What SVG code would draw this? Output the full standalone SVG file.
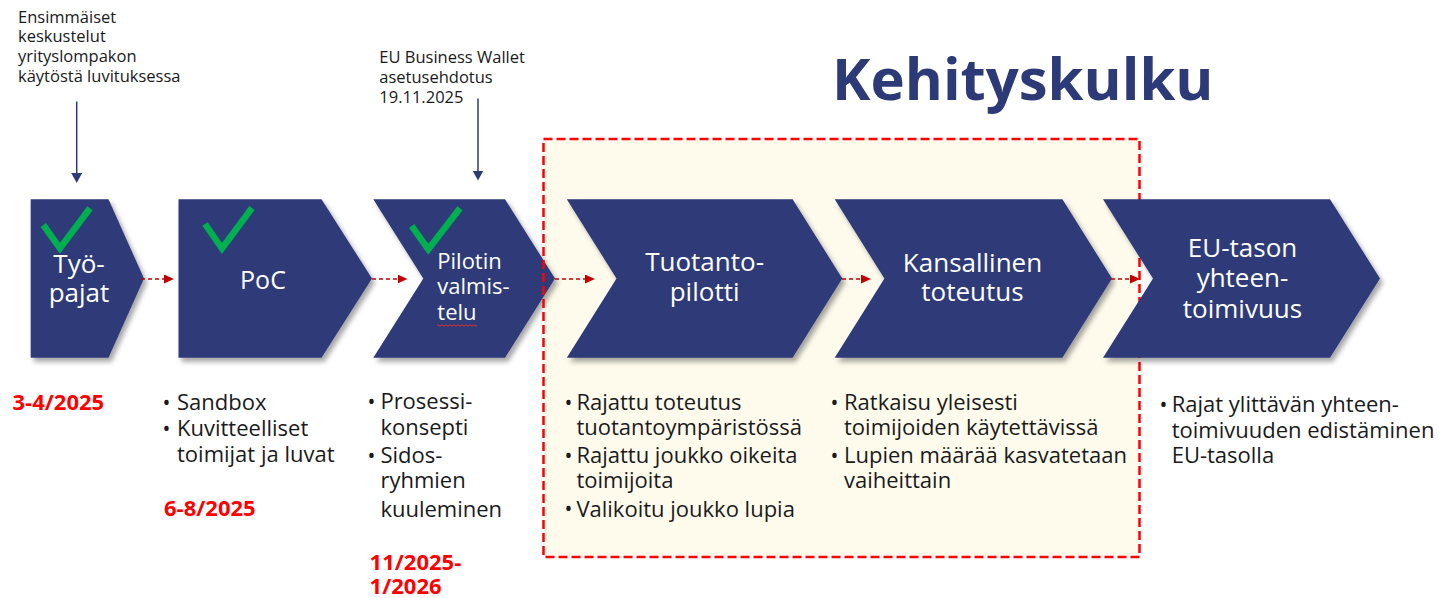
<svg xmlns="http://www.w3.org/2000/svg" width="1439" height="598" viewBox="0 0 1439 598">
<defs>
<style>
.chev{fill:#2D3A78;filter:url(#sh)}
.lbl{font-family:"Open Sans","Liberation Sans",sans-serif;font-size:26px;fill:#FFFFFF;text-anchor:middle}
.lbl2{font-family:"Open Sans","Liberation Sans",sans-serif;font-size:22px;fill:#FFFFFF}
.chk{fill:none;stroke:#00B050;stroke-width:6.5;stroke-linejoin:miter}
.body{font-family:"Open Sans","Liberation Sans",sans-serif;font-size:22px;fill:#1A1A1A}
.bul{font-family:"Open Sans","Liberation Sans",sans-serif;font-size:21px;fill:#1A1A1A}
.date{font-family:"Open Sans","Liberation Sans",sans-serif;font-size:22px;font-weight:bold;fill:#FF0000}
.note{font-family:"Open Sans","Liberation Sans",sans-serif;font-size:16.5px;fill:#1A1A1A}
.con{fill:none;stroke:#C00000;stroke-width:1.6;stroke-dasharray:4 3;marker-end:url(#ah)}
.ann{fill:none;stroke:#2D3A78;stroke-width:1.5;marker-end:url(#ah2)}
</style>
<filter id="sh" x="-10%" y="-10%" width="125%" height="130%">
<feDropShadow dx="3" dy="4" stdDeviation="2.5" flood-color="#000" flood-opacity="0.35"/>
</filter>
<marker id="ah" markerUnits="userSpaceOnUse" markerWidth="12" markerHeight="10" refX="2" refY="4.5" orient="auto">
<path d="M0,0 L10,4.5 L0,9 Z" fill="#C00000"/>
</marker>
<marker id="ah2" markerUnits="userSpaceOnUse" markerWidth="12" markerHeight="12" refX="1" refY="5.5" orient="auto">
<path d="M0,0 L10,5.5 L0,11 Z" fill="#2D3A78"/>
</marker>
</defs>
<rect width="1439" height="598" fill="#FFFFFF"/>

<g id="title">
<text x="832" y="100" font-family="'Open Sans','Liberation Sans',sans-serif" font-size="58" font-weight="bold" fill="#2D3A78">Kehityskulku</text>
</g>

<g id="phase-box-fill">
<rect x="543.5" y="139" width="596" height="418" fill="#FEFBEC"/>
</g>

<g id="n1">
<path class="chev" d="M30.7,199.3 H108.5 L144,278.5 L108.5,357.7 H30.7 Z"/>
<polyline class="chk" points="43.3,225 60,248.3 90,208.3"/>
<text class="lbl" x="79" y="273.3">Työ-</text>
<text class="lbl" x="79" y="301.7">pajat</text>
</g>
<g id="n2">
<path class="chev" d="M178.5,199.3 H321.5 L372,278.5 L321.5,357.7 H178.5 Z"/>
<polyline class="chk" points="205,224 222,248.5 252,208"/>
<text class="lbl" x="263" y="289.3" style="font-size:25px">PoC</text>
</g>
<g id="n3">
<path class="chev" d="M373.3,199.3 H505 L555,278.5 L505,357.7 H373.3 L423.3,278.5 Z"/>
<polyline class="chk" points="411.7,226 428.3,249.3 460,208.3"/>
<text class="lbl2" x="437.3" y="269">Pilotin</text>
<text class="lbl2" x="437.3" y="294">valmis-</text>
<text class="lbl2" x="437.3" y="319.5">telu</text>
<path d="M437,325.5 q1,-1.3 2,0 t2,0 t2,0 t2,0 t2,0 t2,0 t2,0 t2,0 t2,0 t2,0 t2,0 t2,0 t2,0 t2,0 t2,0 t2,0 t2,0 t2,0 t2,0 t2,0" fill="none" stroke="#E03030" stroke-width="1"/>
</g>
<g id="n4">
<path class="chev" d="M566.8,199.3 H792.6 L842.3,278.5 L792.6,357.7 H566.8 L616.5,278.5 Z"/>
<text class="lbl" x="704.6" y="271">Tuotanto-</text>
<text class="lbl" x="704.6" y="300.7">pilotti</text>
</g>
<g id="n5">
<path class="chev" d="M834.7,199.3 H1062.4 L1112,278.5 L1062.4,357.7 H834.7 L884.4,278.5 Z"/>
<text class="lbl" x="972.5" y="271.7">Kansallinen</text>
<text class="lbl" x="972.5" y="300.7">toteutus</text>
</g>

<g id="phase-box-border">
<rect x="543.5" y="139" width="596" height="418" fill="none" stroke="#FF0000" stroke-width="2.5" stroke-dasharray="9 4"/>
</g>

<g id="n6">
<path class="chev" d="M1103,199.3 H1330 L1380,278.5 L1330,357.7 H1103 L1153,278.5 Z"/>
<text class="lbl" x="1242.5" y="256.7">EU-tason</text>
<text class="lbl" x="1242.5" y="287.3">yhteen-</text>
<text class="lbl" x="1242.5" y="318">toimivuus</text>
</g>

<g id="connectors">
<path class="con" d="M141,279 H166"/>
<path class="con" d="M372,279 H399.5"/>
<path class="con" d="M555,279 H587"/>
<path class="con" d="M842,279 H863"/>
<path class="con" d="M1111,279 H1132"/>
<path class="ann" d="M76.7,101.5 V174"/>
<path class="ann" d="M478,98.5 V171.5"/>
</g>

<g id="notes">
<text class="note" x="18" y="22.5">Ensimmäiset</text>
<text class="note" x="18" y="42.2">keskustelut</text>
<text class="note" x="18" y="61.9">yrityslompakon</text>
<text class="note" x="18" y="81.6">käytöstä luvituksessa</text>
<text class="note" x="379.3" y="63.3">EU Business Wallet</text>
<text class="note" x="379.3" y="83">asetusehdotus</text>
<text class="note" x="379.3" y="102.7">19.11.2025</text>
</g>

<g id="details">
<text class="date" x="12.5" y="410">3-4/2025</text>

<text class="bul" x="162.5" y="409.5">•</text>
<text class="body" x="177" y="410">Sandbox</text>
<text class="bul" x="162.5" y="435.5">•</text>
<text class="body" x="177" y="436">Kuvitteelliset</text>
<text class="body" x="177" y="462">toimijat ja luvat</text>
<text class="date" x="164" y="516">6-8/2025</text>

<text class="bul" x="367.5" y="408.5">•</text>
<text class="body" x="380.4" y="409">Prosessi-</text>
<text class="body" x="380.4" y="434.5">konsepti</text>
<text class="bul" x="367.5" y="462.5">•</text>
<text class="body" x="380.4" y="463">Sidos-</text>
<text class="body" x="380.4" y="488">ryhmien</text>
<text class="body" x="380.4" y="516.5">kuuleminen</text>
<text class="date" x="369.6" y="569.5">11/2025-</text>
<text class="date" x="369.6" y="594">1/2026</text>

<text class="bul" x="564.5" y="409.5">•</text>
<text class="body" x="576.4" y="410">Rajattu toteutus</text>
<text class="body" x="576.4" y="435">tuotantoympäristössä</text>
<text class="bul" x="564.5" y="462.5">•</text>
<text class="body" x="576.4" y="463">Rajattu joukko oikeita</text>
<text class="body" x="576.4" y="488">toimijoita</text>
<text class="bul" x="564.5" y="516">•</text>
<text class="body" x="576.4" y="516.5">Valikoitu joukko lupia</text>

<text class="bul" x="830.5" y="409.5">•</text>
<text class="body" x="844" y="410">Ratkaisu yleisesti</text>
<text class="body" x="844" y="435">toimijoiden käytettävissä</text>
<text class="bul" x="830.5" y="462.5">•</text>
<text class="body" x="844" y="463">Lupien määrää kasvatetaan</text>
<text class="body" x="844" y="488">vaiheittain</text>

<text class="bul" x="1159.5" y="411.5">•</text>
<text class="body" x="1171.7" y="412">Rajat ylittävän yhteen-</text>
<text class="body" x="1171.7" y="437.5">toimivuuden edistäminen</text>
<text class="body" x="1171.7" y="463">EU-tasolla</text>
</g>
</svg>
